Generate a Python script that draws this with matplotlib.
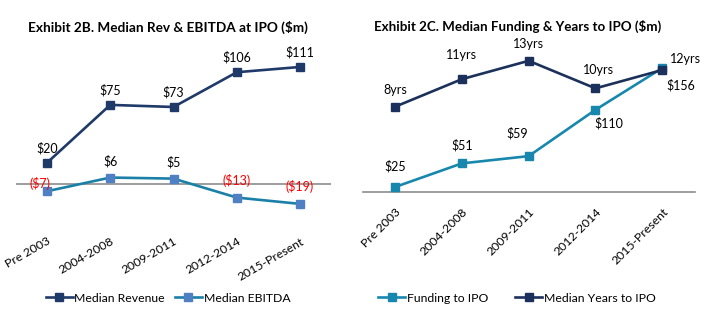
import matplotlib.pyplot as plt

plt.rcParams['font.family'] = ['Lato', 'DejaVu Sans']

periods = ['Pre 2003', '2004-2008', '2009-2011', '2012-2014', '2015-Present']
revenue = [20, 75, 73, 106, 111]
ebitda = [-7, 6, 5, -13, -19]
funding = [25, 51, 59, 110, 156]
years = [8, 11, 13, 10, 12]

W, H = 726, 328
NAVY = '#1f3a68'
NAVY2 = '#1c305c'
TEAL = '#1b80a8'
TEAL2 = '#1787ae'
BLUE = '#4f80c4'
GRAY = '#8c8c8c'

fig = plt.figure(figsize=(W / 100, H / 100), dpi=100)


def px_axes(left, top, right, bottom):
    # оси в пиксельных координатах картинки
    return fig.add_axes([left / W, 1 - bottom / H, (right - left) / W, (bottom - top) / H])


def money(v):
    return f'${v}' if v >= 0 else f'(${-v})'


x = list(range(len(periods)))

# Exhibit 2B: выручка и EBITDA
ax1 = px_axes(16, 20, 331, 226)
ax1.plot(x, revenue, color=NAVY, lw=1.9, marker='s', ms=5.2, label='Median Revenue')
ax1.plot(x, ebitda, color=TEAL, lw=1.9, marker='s', ms=5.2, mfc=BLUE, mec=BLUE,
         label='Median EBITDA')
ax1.axhline(0, color=GRAY, lw=1.2, zorder=0)
ax1.set_xlim(-0.49, 4.49)
ax1.set_ylim(-40, 155.6)
ax1.set_yticks([])
ax1.set_xticks(x)
ax1.set_xticklabels(periods, rotation=30, ha='right', va='top', rotation_mode='anchor',
                    fontsize=8.8)
ax1.tick_params(axis='x', length=0, pad=7)
for s in ax1.spines.values():
    s.set_visible(False)

for i, v in enumerate(revenue):
    ax1.annotate(money(v), (i, v), xytext=(0, 15), textcoords='offset pixels',
                 ha='center', va='center', fontsize=9)
ebitda_off = [(-7, 8), (0, 16), (0, 16), (0, 17), (0, 17)]
for i, v in enumerate(ebitda):
    ax1.annotate(money(v), (i, v), xytext=ebitda_off[i], textcoords='offset pixels',
                 ha='center', va='center', fontsize=9,
                 color='red' if v < 0 else 'black')

# Exhibit 2C: финансирование и годы до IPO
ax2 = px_axes(363, 20, 695, 192)
ax3 = ax2.twinx()
ax2.plot(x, funding, color=TEAL2, lw=1.9, marker='s', ms=5.2, label='Funding to IPO', zorder=3)
ax3.plot(x, years, color=NAVY2, lw=1.9, marker='s', ms=5.2, label='Median Years to IPO')
ax2.set_xlim(-0.48, 4.49)
ax2.set_ylim(19.5, 208.9)
ax3.set_ylim(-1.28, 17.44)
ax2.set_yticks([])
ax3.set_yticks([])
ax2.set_xticks(x)
ax2.set_xticklabels(periods, rotation=45, ha='right', va='top', rotation_mode='anchor',
                    fontsize=8.8)
ax2.tick_params(axis='x', length=0, pad=10)
for a in (ax2, ax3):
    for name, s in a.spines.items():
        s.set_visible(False)
ax2.spines['bottom'].set_visible(True)
ax2.spines['bottom'].set_color(GRAY)
ax2.spines['bottom'].set_linewidth(1.2)

fund_off = [(0, 21), (0, 18), (-11, 23), (13, -13), (19, -17)]
for i, v in enumerate(funding):
    ax2.annotate(money(v), (i, v), xytext=fund_off[i], textcoords='offset pixels',
                 ha='center', va='center', fontsize=9)
years_off = [(0, 17), (0, 24), (0, 17), (3, 18), (23, 11)]
for i, v in enumerate(years):
    ax3.annotate(f'{v}yrs', (i, v), xytext=years_off[i], textcoords='offset pixels',
                 ha='center', va='center', fontsize=9)

# Заголовки
fig.text(28 / W, 1 - 32 / H, 'Exhibit 2B. Median Rev & EBITDA at IPO ($m)',
         fontsize=9.8, fontweight='bold', va='baseline')
fig.text(374 / W, 1 - 31 / H, 'Exhibit 2C. Median Funding & Years to IPO ($m)',
         fontsize=9.6, fontweight='bold', va='baseline')

# Легенды
h1, l1 = ax1.get_legend_handles_labels()
fig.legend(h1, l1, loc='center', bbox_to_anchor=(168 / W, 1 - 298 / H), ncol=2,
           frameon=False, fontsize=8.8, handlelength=2.2, handletextpad=0.15,
           columnspacing=0.8)
h2, l2 = ax2.get_legend_handles_labels()
h3, l3 = ax3.get_legend_handles_labels()
fig.legend(h2 + h3, l2 + l3, loc='center', bbox_to_anchor=(517 / W, 1 - 298 / H), ncol=2,
           frameon=False, fontsize=8.8, handlelength=2.2, handletextpad=0.15,
           columnspacing=2.2)

fig.savefig('out.png', dpi=100)
